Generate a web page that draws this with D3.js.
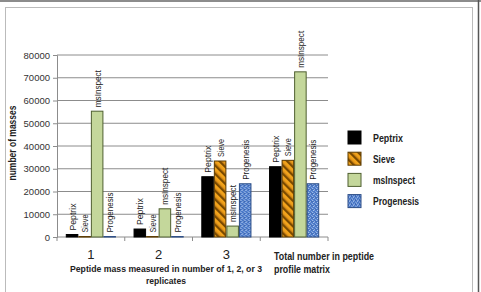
<!DOCTYPE html>
<html><head><meta charset="utf-8">
<script src="https://cdn.jsdelivr.net/npm/d3@7"></script>
<style>body{margin:0;background:#fff}svg{display:block}</style>
</head><body>
<script>
const categories = ["1", "2", "3", "Total number in peptide\nprofile matrix"];
const series = ["Peptrix", "Sieve", "msInspect", "Progenesis"];
const peptrix    = [1100, 3500, 26500, 30900];
const sieve      = [200, 200, 33400, 33700];
const msinspect  = [55300, 12400, 4800, 72600];
const progenesis = [200, 200, 23400, 23400];
const yTicks = [0, 10000, 20000, 30000, 40000, 50000, 60000, 70000, 80000];
const values = [peptrix, sieve, msinspect, progenesis];

const W = 481, H = 292;
const svg = d3.select("body").append("svg").attr("width", W).attr("height", H);
const defs = svg.append("defs");

// Sieve stripes
const ps = defs.append("pattern").attr("id","sieve").attr("patternUnits","userSpaceOnUse")
  .attr("width",6).attr("height",6).attr("patternTransform","rotate(-45)");
ps.append("rect").attr("width",6).attr("height",6).attr("fill","#f2a31c");
ps.append("rect").attr("width",2.2).attr("height",6).attr("fill","#7a4a00");
ps.append("rect").attr("x",2.2).attr("width",1).attr("height",6).attr("fill","#c07810");
// Progenesis texture
const pp = defs.append("pattern").attr("id","prog").attr("patternUnits","userSpaceOnUse")
  .attr("width",4).attr("height",4);
pp.append("rect").attr("width",4).attr("height",4).attr("fill","#4a78c8");
pp.append("rect").attr("x",0).attr("y",0).attr("width",1).attr("height",1).attr("fill","#b8cff0");
pp.append("rect").attr("x",2).attr("y",1).attr("width",1).attr("height",1).attr("fill","#9fbde8");
pp.append("rect").attr("x",1).attr("y",2).attr("width",1).attr("height",1).attr("fill","#c8dcf5");
pp.append("rect").attr("x",3).attr("y",3).attr("width",1).attr("height",1).attr("fill","#8fb0e0");
pp.append("rect").attr("x",3).attr("y",1).attr("width",1).attr("height",1).attr("fill","#2f58a0");

const fills = {"Peptrix":"#000000","Sieve":"url(#sieve)","msInspect":"#c4d79b","Progenesis":"url(#prog)"};
const strokes = {"Peptrix":"#000000","Sieve":"#5a3a00","msInspect":"#4f5f30","Progenesis":"#2c4d85"};
const labelLen = {"Peptrix":27,"Sieve":18,"msInspect":37,"Progenesis":40};
const legendLen = {"Peptrix":30,"Sieve":22,"msInspect":42,"Progenesis":46};

// frame
svg.append("line").attr("x1",0).attr("x2",W).attr("y1",1).attr("y2",1).attr("stroke","#666").attr("stroke-width",1.5);
svg.append("line").attr("x1",478.5).attr("x2",478.5).attr("y1",0).attr("y2",H).attr("stroke","#555").attr("stroke-width",1.5);
svg.append("rect").attr("x",5.5).attr("y",7.5).attr("width",467).attr("height",H).attr("fill","none").attr("stroke","#bbb");

const font = "'Liberation Sans', Arial, sans-serif";
const y = d3.scaleLinear().domain([0,80000]).range([237,55]);
const x0 = d3.scaleBand().domain(categories).range([57,328]).padding(0);
const gap = 8.8;
const x1 = d3.scaleBand().domain(series).range([gap, x0.bandwidth()-gap]).padding(0);

// gridlines
svg.append("g").selectAll("line").data(yTicks.filter(d=>d>0)).join("line")
  .attr("x1",57).attr("x2",328).attr("y1",d=>y(d)).attr("y2",d=>y(d))
  .attr("stroke","#8c8c8c").attr("stroke-width",1);

// y axis
const ya = svg.append("g").attr("transform","translate(57,0)")
  .call(d3.axisLeft(y).tickValues(yTicks).tickSize(4).tickPadding(3).tickFormat(d3.format("d")));
ya.select(".domain").attr("stroke","#8c8c8c");
ya.selectAll(".tick line").attr("stroke","#8c8c8c");
ya.selectAll("text").attr("font-family",font).attr("font-size",9.5).attr("fill","#333");

// x axis
const xa = svg.append("g").attr("transform","translate(0,237)");
xa.append("line").attr("x1",57).attr("x2",328).attr("stroke","#8c8c8c");
xa.selectAll(".tk").data(categories.concat(["__end"])).join("line")
  .attr("x1",(d,i)=> i<categories.length ? x0(d) : x0.range()[1])
  .attr("x2",(d,i)=> i<categories.length ? x0(d) : x0.range()[1])
  .attr("y1",0).attr("y2",4).attr("stroke","#8c8c8c");

// bars
const groups = svg.append("g").selectAll("g").data(categories).join("g")
  .attr("transform",d=>`translate(${x0(d)},0)`);
series.forEach((s,si)=>{
  groups.append("rect")
    .attr("x",x1(s)+0.5).attr("width",x1.bandwidth()-1)
    .attr("y",(d,ci)=>y(values[si][ci]))
    .attr("height",(d,ci)=>Math.max(0.5,y(0)-y(values[si][ci])))
    .attr("fill",fills[s]).attr("stroke",strokes[s]).attr("stroke-width",1);
  groups.append("text")
    .attr("transform",(d,ci)=>`translate(${x1(s)+x1.bandwidth()/2+3.5},${y(values[si][ci])-4}) rotate(-90)`)
    .attr("font-family",font).attr("font-size",9).attr("fill","#222")
    .attr("textLength",labelLen[s]).attr("lengthAdjust","spacingAndGlyphs")
    .text(s);
});

// category labels
const boldFont = "'Liberation Sans', Arial, sans-serif";
const catLens = [100, 56];
categories.forEach((c,i)=>{
  if(i<3){
    svg.append("text").attr("x",x0(c)+x0.bandwidth()/2).attr("y",259)
      .attr("text-anchor","middle").attr("font-family",font).attr("font-size",13).attr("fill","#222").text(c);
  } else {
    const t = svg.append("text").attr("x",274).attr("y",260)
      .attr("font-family",boldFont).attr("font-weight","bold").attr("font-size",10.5).attr("fill","#222");
    c.split("\n").forEach((ln,j)=>t.append("tspan").attr("x",274).attr("dy",j?12.5:0)
      .attr("textLength",catLens[j]).attr("lengthAdjust","spacingAndGlyphs").text(ln));
  }
});

// axis titles
const xt = svg.append("text").attr("x",166).attr("y",271.5).attr("text-anchor","middle")
  .attr("font-family",boldFont).attr("font-weight","bold").attr("font-size",9.5).attr("fill","#222");
xt.append("tspan").attr("x",166).attr("textLength",192).attr("lengthAdjust","spacingAndGlyphs")
  .text("Peptide mass measured in number of 1, 2, or 3");
xt.append("tspan").attr("x",166).attr("dy",12.5).attr("textLength",40).attr("lengthAdjust","spacingAndGlyphs")
  .text("replicates");

svg.append("text").attr("transform","translate(16,143) rotate(-90)").attr("text-anchor","middle")
  .attr("font-family",boldFont).attr("font-weight","bold").attr("font-size",10.5).attr("fill","#222")
  .attr("textLength",75).attr("lengthAdjust","spacingAndGlyphs").text("number of masses");

// legend
const lg = svg.append("g").selectAll("g").data(series).join("g")
  .attr("transform",(d,i)=>`translate(348,${131+i*21.2})`);
lg.append("rect").attr("width",13).attr("height",13).attr("fill",d=>fills[d]).attr("stroke",d=>strokes[d]);
lg.append("text").attr("x",25).attr("y",10.5).attr("font-family",boldFont).attr("font-weight","bold")
  .attr("font-size",11).attr("fill","#222")
  .attr("textLength",d=>legendLen[d]).attr("lengthAdjust","spacingAndGlyphs").text(d=>d);
</script>
</body></html>
